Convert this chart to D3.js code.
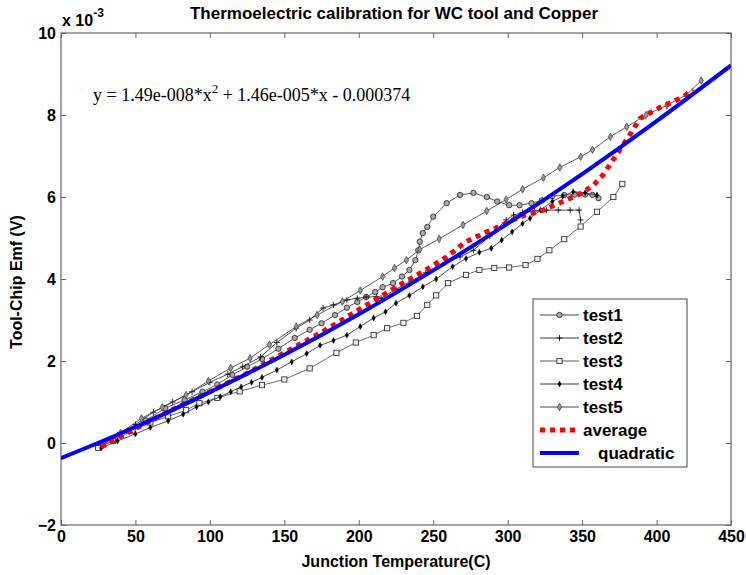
<!DOCTYPE html>
<html>
<head>
<meta charset="utf-8">
<title>Thermoelectric calibration for WC tool and Copper</title>
<script src="https://d3js.org/d3.v7.min.js"></script>
<style>
  body { margin: 0; background: #fff; }
  text { font-family: "Liberation Sans", Arial, sans-serif; }
</style>
</head>
<body>
<script>
// readings taken off the original figure (emf in units of 1e-3 V)
const test1X = [26, 35, 45, 57, 70, 83, 95, 105, 115, 125, 135, 146, 157, 167, 175, 184, 192, 199, 205, 211, 216, 223, 229, 234, 238, 240, 241, 243, 246, 250, 259, 268, 277, 286, 293, 301, 308, 316, 323, 330, 338, 345, 352, 357, 361];
const test1Y = [-0.1, 0.08, 0.3, 0.55, 0.85, 1.05, 1.25, 1.43, 1.66, 1.86, 2.05, 2.3, 2.56, 2.76, 2.92, 3.12, 3.3, 3.44, 3.56, 3.68, 3.8, 3.9, 4.06, 4.22, 4.46, 4.7, 4.91, 5.12, 5.27, 5.52, 5.85, 6.05, 6.1, 6.0, 5.89, 5.8, 5.8, 5.85, 5.92, 6.02, 6.05, 6.06, 6.06, 6.05, 5.97];

const test2X = [27, 38, 50, 62, 75, 88, 100, 112, 122, 134, 145, 158, 167, 176, 183, 192, 199, 205, 212, 215, 225, 235, 245, 258, 268, 277, 288, 299, 304, 310, 318, 326, 334, 342, 348, 349];
const test2Y = [-0.05, 0.2, 0.45, 0.75, 1.0, 1.25, 1.48, 1.68, 1.86, 2.1, 2.45, 2.8, 3.0, 3.29, 3.37, 3.49, 3.53, 3.56, 3.57, 3.53, 3.75, 3.95, 4.15, 4.4, 4.54, 4.7, 5.05, 5.44, 5.56, 5.62, 5.66, 5.68, 5.68, 5.68, 5.68, 5.44];

const test3X = [25, 35, 48, 60, 72, 84, 93, 105, 120, 135, 150, 167, 185, 198, 210, 219, 230, 239, 246, 252, 260, 272, 281, 291, 301, 312, 320, 328, 338, 349, 360, 371, 377];
const test3Y = [-0.12, 0.05, 0.3, 0.5, 0.65, 0.8, 0.97, 1.1, 1.26, 1.41, 1.55, 1.82, 2.2, 2.45, 2.63, 2.8, 2.93, 3.1, 3.37, 3.6, 3.9, 4.1, 4.22, 4.27, 4.28, 4.34, 4.49, 4.7, 4.97, 5.28, 5.64, 6.0, 6.32];

const test4X = [27, 38, 50, 60, 72, 82, 91, 99, 107, 114, 121, 128, 135, 145, 155, 165, 174, 183, 192, 201, 210, 218, 225, 234, 243, 252, 263, 272, 281, 289, 296, 303, 310, 315, 322, 330, 337, 344, 352, 360];
const test4Y = [-0.12, 0.05, 0.22, 0.38, 0.54, 0.7, 0.88, 1.0, 1.13, 1.25, 1.37, 1.48, 1.6, 1.78, 1.98, 2.18, 2.38, 2.5, 2.63, 2.84, 3.05, 3.2, 3.41, 3.6, 3.81, 4.0, 4.3, 4.5, 4.65, 4.75, 4.95, 5.15, 5.35, 5.48, 5.68, 5.89, 6.02, 6.13, 6.1, 6.05];

const test5X = [28, 40, 54, 68, 84, 99, 114, 127, 140, 158, 172, 189, 201, 216, 224, 232, 241, 254, 270, 286, 299, 310, 324, 335, 349, 357, 369, 380, 393, 407, 420, 430];
const test5Y = [-0.05, 0.25, 0.6, 0.87, 1.17, 1.51, 1.83, 2.07, 2.4, 2.84, 3.12, 3.45, 3.72, 4.06, 4.27, 4.46, 4.72, 4.98, 5.32, 5.66, 5.94, 6.19, 6.47, 6.72, 6.98, 7.15, 7.47, 7.71, 8.0, 8.24, 8.49, 8.84];

const avgX = [27, 50, 75, 100, 125, 150, 175, 200, 225, 245, 259, 272, 286, 295, 308, 324, 337, 350, 358, 364, 372, 381, 389, 396, 403, 411, 418, 425];
const avgY = [-0.1, 0.35, 0.82, 1.25, 1.7, 2.2, 2.7, 3.25, 3.8, 4.22, 4.54, 4.91, 5.15, 5.29, 5.52, 5.68, 5.89, 6.1, 6.3, 6.54, 6.97, 7.46, 7.92, 8.06, 8.2, 8.32, 8.45, 8.6];

const quadX = [0, 50, 100, 150, 200, 250, 300, 350, 400, 450];
const quadY = [-0.37, 0.39, 1.24, 2.15, 3.14, 4.21, 5.35, 6.56, 7.85, 9.21];

const xTicks = [0, 50, 100, 150, 200, 250, 300, 350, 400, 450];
const yTicks = [-2, 0, 2, 4, 6, 8, 10];
const seriesNames = ["test1", "test2", "test3", "test4", "test5", "average", "quadratic"];

const width = 746, height = 575;
const plotLeft = 61, plotRight = 731, plotTop = 33, plotBottom = 525;

const svg = d3.select("body").append("svg")
    .attr("width", width)
    .attr("height", height);

const x = d3.scaleLinear().domain([0, 450]).range([plotLeft, plotRight]);
const y = d3.scaleLinear().domain([-2, 10]).range([plotBottom, plotTop]);

svg.append("defs").append("clipPath").attr("id", "plotclip")
  .append("rect")
    .attr("x", plotLeft).attr("y", plotTop)
    .attr("width", plotRight - plotLeft).attr("height", plotBottom - plotTop);

// axes, ticks pointing inwards on all four sides
const axisColor = "#666";
function styleAxis(g) {
    g.select(".domain").remove();
    g.selectAll(".tick line").attr("stroke", axisColor);
    g.selectAll(".tick text")
        .attr("fill", "#000")
        .style("font-family", "'Liberation Sans', Arial, sans-serif")
        .style("font-weight", "bold")
        .style("font-size", "16px");
}

svg.append("g")
    .attr("transform", `translate(0,${plotBottom})`)
    .call(d3.axisBottom(x).tickValues(xTicks).tickSize(-5).tickPadding(6))
    .call(styleAxis);

svg.append("g")
    .attr("transform", `translate(0,${plotTop})`)
    .call(d3.axisTop(x).tickValues(xTicks).tickSize(-5).tickFormat(""))
    .call(styleAxis);

svg.append("g")
    .attr("transform", `translate(${plotLeft},0)`)
    .call(d3.axisLeft(y).tickValues(yTicks).tickSize(-5).tickPadding(5))
    .call(styleAxis);

svg.append("g")
    .attr("transform", `translate(${plotRight},0)`)
    .call(d3.axisRight(y).tickValues(yTicks).tickSize(-5).tickFormat(""))
    .call(styleAxis);

svg.append("rect")
    .attr("x", plotLeft).attr("y", plotTop)
    .attr("width", plotRight - plotLeft).attr("height", plotBottom - plotTop)
    .attr("fill", "none")
    .attr("stroke", axisColor)
    .attr("stroke-width", 1.2);

// marker shapes
function marker(sel, kind) {
    if (kind === "circle") {
        sel.append("circle").attr("r", 2.7)
            .attr("fill", "#aaa").attr("stroke", "#222").attr("stroke-width", 0.8);
    } else if (kind === "plus") {
        sel.append("path").attr("d", "M-3,0H3M0,-3V3")
            .attr("stroke", "#111").attr("stroke-width", 0.9);
    } else if (kind === "square") {
        sel.append("rect").attr("x", -2.6).attr("y", -2.6).attr("width", 5.2).attr("height", 5.2)
            .attr("fill", "#eee").attr("stroke", "#222").attr("stroke-width", 0.8);
    } else if (kind === "dot") {
        sel.append("path").attr("d", d3.symbol(d3.symbolDiamond, 10)())
            .attr("fill", "#000").attr("stroke", "#000").attr("stroke-width", 0.5);
    } else if (kind === "diamond") {
        sel.append("path").attr("d", d3.symbol(d3.symbolDiamond, 16)())
            .attr("fill", "#999").attr("stroke", "#333").attr("stroke-width", 0.7);
    }
}

const tests = [
    { xs: test1X, ys: test1Y, kind: "circle", stroke: "#333" },
    { xs: test2X, ys: test2Y, kind: "plus", stroke: "#222" },
    { xs: test3X, ys: test3Y, kind: "square", stroke: "#444" },
    { xs: test4X, ys: test4Y, kind: "dot", stroke: "#222" },
    { xs: test5X, ys: test5Y, kind: "diamond", stroke: "#333" }
];

const line = d3.line().x(d => x(d[0])).y(d => y(d[1]));
const plot = svg.append("g").attr("clip-path", "url(#plotclip)");

tests.forEach(t => {
    const pts = t.xs.map((v, i) => [v, t.ys[i]]);
    plot.append("path")
        .datum(pts)
        .attr("fill", "none")
        .attr("stroke", t.stroke)
        .attr("stroke-width", 0.8)
        .attr("d", line);
    plot.append("g").selectAll("g")
        .data(pts)
        .enter()
        .append("g")
        .attr("transform", d => `translate(${x(d[0])},${y(d[1])})`)
        .each(function () { marker(d3.select(this), t.kind); });
});

plot.append("path")
    .datum(avgX.map((v, i) => [v, avgY[i]]))
    .attr("fill", "none")
    .attr("stroke", "#ff0000")
    .attr("stroke-width", 5)
    .attr("stroke-dasharray", "5,5")
    .attr("d", line);

plot.append("path")
    .datum(quadX.map((v, i) => [v, quadY[i]]))
    .attr("fill", "none")
    .attr("stroke", "#0000ff")
    .attr("stroke-width", 4)
    .attr("d", line.curve(d3.curveNatural));

// texts
svg.append("text")
    .attr("x", 394).attr("y", 19)
    .attr("text-anchor", "middle")
    .style("font-weight", "bold").style("font-size", "17px")
    .text("Thermoelectric calibration for WC tool and Copper");

svg.append("text")
    .attr("x", 396).attr("y", 567)
    .attr("text-anchor", "middle")
    .style("font-weight", "bold").style("font-size", "16px")
    .text("Junction Temperature(C)");

svg.append("text")
    .attr("transform", "translate(22,282) rotate(-90)")
    .attr("text-anchor", "middle")
    .style("font-weight", "bold").style("font-size", "16px")
    .text("Tool-Chip Emf (V)");

const expo = svg.append("text")
    .attr("x", 62).attr("y", 26)
    .style("font-weight", "bold").style("font-size", "16px");
expo.append("tspan").text("x 10");
expo.append("tspan").attr("dy", -9).style("font-size", "12px").text("-3");

const eq = svg.append("text")
    .attr("x", 93).attr("y", 101)
    .style("font-family", "'Liberation Serif', 'Times New Roman', serif")
    .style("font-size", "18px");
eq.append("tspan").text("y = 1.49e-008*x");
eq.append("tspan").attr("dy", -8).style("font-size", "13px").text("2");
eq.append("tspan").attr("dy", 8).text(" + 1.46e-005*x - 0.000374");

// legend
const legend = svg.append("g");
legend.append("rect")
    .attr("x", 533).attr("y", 299)
    .attr("width", 154).attr("height", 168)
    .attr("fill", "#fff")
    .attr("stroke", axisColor)
    .attr("stroke-width", 1.2);

const legendRow = d3.scaleLinear().domain([0, 6]).range([315, 453]);
seriesNames.forEach((name, i) => {
    const ly = legendRow(i);
    const row = legend.append("g");
    if (i < 5) {
        row.append("line")
            .attr("x1", 540).attr("x2", 579).attr("y1", ly).attr("y2", ly)
            .attr("stroke", tests[i].stroke).attr("stroke-width", 0.9);
        const m = row.append("g").attr("transform", `translate(559.5,${ly})`);
        marker(m, tests[i].kind);
    } else if (i === 5) {
        row.append("line")
            .attr("x1", 540).attr("x2", 580).attr("y1", ly).attr("y2", ly)
            .attr("stroke", "#ff0000").attr("stroke-width", 5)
            .attr("stroke-dasharray", "5,5");
    } else {
        row.append("line")
            .attr("x1", 540).attr("x2", 579).attr("y1", ly).attr("y2", ly)
            .attr("stroke", "#0000ff").attr("stroke-width", 4);
    }
    row.append("text")
        .attr("x", i === 6 ? 598 : 583).attr("y", ly)
        .attr("dy", "0.35em")
        .style("font-weight", "bold").style("font-size", "17px")
        .text(name);
});
</script>
</body>
</html>
